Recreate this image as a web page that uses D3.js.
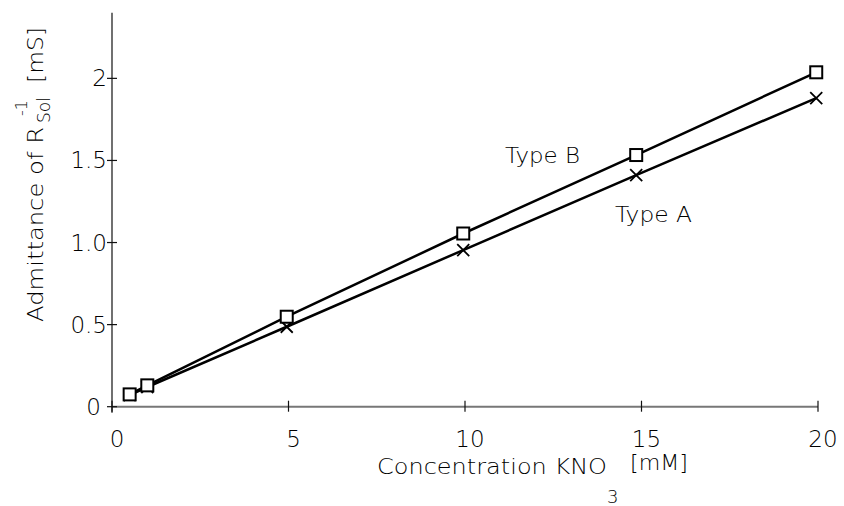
<!DOCTYPE html>
<html>
<head>
<meta charset="utf-8">
<script src="https://cdn.jsdelivr.net/npm/d3@7"></script>
<style>
  html, body { margin: 0; padding: 0; background: #fff; }
  svg { display: block; }
  text { font-family: "DejaVu Sans", "Open Sans", sans-serif; font-weight: 200; fill: #000; }
</style>
</head>
<body>
<svg id="chart" width="844" height="506"></svg>
<script>
// ---- data ----
const concentration = [0.5, 1, 4.95, 9.95, 14.85, 19.95];
const typeB = [0.075, 0.13, 0.548, 1.055, 1.533, 2.037];
const typeA = [0.07, 0.12, 0.487, 0.954, 1.41, 1.88];
const xTicks = [0, 5, 10, 15, 20];
const xTickLabels = ["0", "5", "10", "15", "20"];
const yTicks = [0, 0.5, 1.0, 1.5, 2];
const yTickLabels = ["0", "0.5", "1.0", "1.5", "2"];

const svg = d3.select("#chart");
const x = d3.scaleLinear().domain([0, 20]).range([112, 818]);
const y = d3.scaleLinear().domain([0, 2.4]).range([406.7, 12.7]);

// axes lines
svg.append("line").attr("x1", x(0)).attr("x2", x(20)).attr("y1", y(0)).attr("y2", y(0))
  .attr("stroke", "#777").attr("stroke-width", 2);
svg.append("line").attr("x1", x(0)).attr("x2", x(0)).attr("y1", y(2.4)).attr("y2", y(0) + 6)
  .attr("stroke", "#111").attr("stroke-width", 1.2);

// x ticks
const xg = svg.append("g");
xg.selectAll("line").data(xTicks).join("line")
  .attr("x1", d => x(d)).attr("x2", d => x(d))
  .attr("y1", y(0) - 6).attr("y2", y(0) + 5)
  .attr("stroke", "#111").attr("stroke-width", 1.2);
xg.selectAll("text").data(xTicks).join("text")
  .attr("x", d => x(d) + 5).attr("y", 447)
  .attr("text-anchor", "middle").attr("font-size", 23)
  .text((d, i) => xTickLabels[i]);

// y ticks
const yg = svg.append("g");
yg.selectAll("line").data(yTicks).join("line")
  .attr("x1", x(0) - 5).attr("x2", x(0) + 5)
  .attr("y1", d => y(d)).attr("y2", d => y(d))
  .attr("stroke", "#111").attr("stroke-width", 1.2);
yg.selectAll("text").data(yTicks).join("text")
  .attr("x", (d, i) => i === 0 ? 101 : 107).attr("y", d => y(d) + 8)
  .attr("text-anchor", "end").attr("font-size", 23)
  .text((d, i) => yTickLabels[i]);

// lines
const line = d3.line().x(d => x(d[0])).y(d => y(d[1]));
const ptsA = concentration.map((c, i) => [c, typeA[i]]);
const ptsB = concentration.map((c, i) => [c, typeB[i]]);
svg.append("path").attr("d", line(ptsA)).attr("fill", "none").attr("stroke", "#000").attr("stroke-width", 2.5);
svg.append("path").attr("d", line(ptsB)).attr("fill", "none").attr("stroke", "#000").attr("stroke-width", 2.5);

// crosses (Type A)
const cs = 6;
svg.append("g").selectAll("path").data(ptsA).join("path")
  .attr("d", d => {
    const px = x(d[0]), py = y(d[1]);
    return `M${px - cs},${py - cs}L${px + cs},${py + cs}M${px - cs},${py + cs}L${px + cs},${py - cs}`;
  })
  .attr("stroke", "#000").attr("stroke-width", 1.8).attr("fill", "none");

// squares (Type B)
const ss = 12;
svg.append("g").selectAll("rect").data(ptsB).join("rect")
  .attr("x", d => x(d[0]) - ss / 2).attr("y", d => y(d[1]) - ss / 2)
  .attr("width", ss).attr("height", ss)
  .attr("fill", "#fff").attr("stroke", "#000").attr("stroke-width", 2);

function fit(sel, len) {
  return sel.attr("textLength", len).attr("lengthAdjust", "spacingAndGlyphs");
}

// series labels
fit(svg.append("text").attr("x", 505).attr("y", 163).attr("font-size", 21).text("Type B"), 75);
fit(svg.append("text").attr("x", 615).attr("y", 222).attr("font-size", 21).text("Type A"), 77);

// x axis title
fit(svg.append("text").attr("x", 377).attr("y", 474).attr("font-size", 21).text("Concentration KNO"), 230);
svg.append("text").attr("x", 607).attr("y", 503).attr("font-size", 18).text("3");
fit(svg.append("text").attr("x", 630).attr("y", 470).attr("font-size", 21).text("[mM]"), 58);

// y axis title (rotated)
const yt = svg.append("g").attr("transform", "translate(43,322) rotate(-90)");
fit(yt.append("text").attr("x", 0).attr("y", 0).attr("font-size", 21).text("Admittance of R"), 195);
fit(yt.append("text").attr("x", 199).attr("y", 7).attr("font-size", 18).text("Sol"), 26);
yt.append("text").attr("x", 206).attr("y", -16).attr("font-size", 16).text("-1");
fit(yt.append("text").attr("x", 239).attr("y", 0).attr("font-size", 21).text("[mS]"), 56);
</script>
</body>
</html>
